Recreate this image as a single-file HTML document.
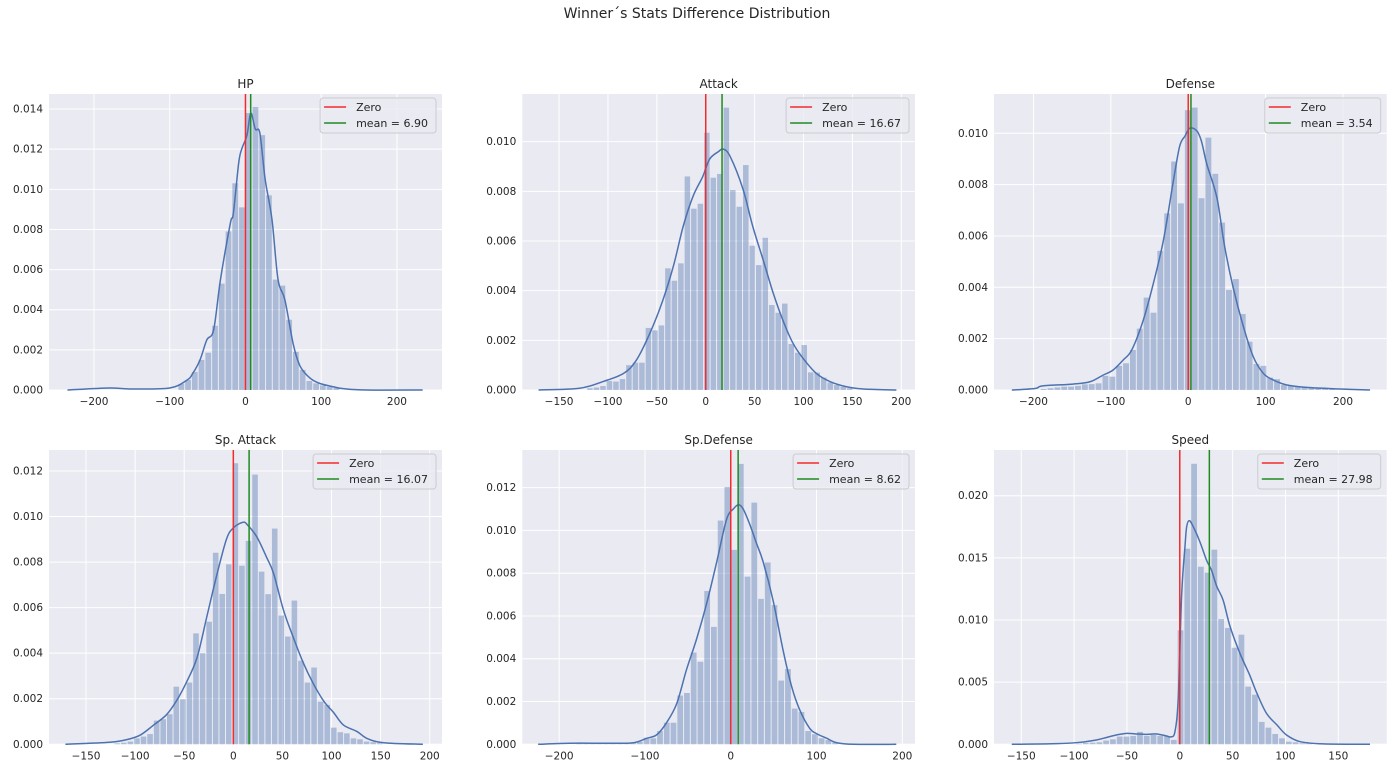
<!DOCTYPE html>
<html><head><meta charset="utf-8"><title>Winner´s Stats Difference Distribution</title>
<style>
body{margin:0;background:#fff;}
svg{display:block;font-family:"DejaVu Sans","Liberation Sans",sans-serif;}
</style></head>
<body>
<svg id="fig" width="1394" height="772" viewBox="0 0 1394 772" xmlns="http://www.w3.org/2000/svg">
<text x="697" y="18" text-anchor="middle" font-size="14" fill="#262626">Winner´s Stats Difference Distribution</text>
</svg>
<script>
// ---- data ----
const titles = ["HP","Attack","Defense","Sp. Attack","Sp.Defense","Speed"];
const means = [6.90, 16.67, 3.54, 16.07, 8.62, 27.98];
const binStarts = [-88.5, -121.2, -190.6, -121, -180, -98];
const binWidths = [8.9, 6.64, 8.87, 6.68, 7.85, 6.4];

const hpHeights = [0.0003,0.0005,0.0009,0.0015,0.00186,0.0032,0.0053,0.0079,0.0103,0.0091,0.0138,0.0141,0.0127,0.0097,0.0055,0.0052,0.0035,0.0019,0.001,0.00045,0.00033,0.00023,0.00015,0.0001];
const atkHeights = [0.00007,0.0001,0.00016,0.00036,0.00034,0.00044,0.001,0.0011,0.0011,0.0025,0.0024,0.0026,0.0049,0.0044,0.0051,0.0086,0.0073,0.0075,0.01036,0.00855,0.0087,0.01137,0.00805,0.00738,0.00906,0.00581,0.00503,0.00613,0.00342,0.00311,0.00348,0.00185,0.0015,0.00181,0.00071,0.0007,0.0005,0.0003,0.0002,0.00013,0.00007];
const defHeights = [0.00004,0.00007,0.0001,0.00013,0.00013,0.00016,0.00022,0.00023,0.00026,0.00055,0.00052,0.00094,0.00104,0.00156,0.00239,0.0036,0.00301,0.00542,0.00688,0.0089,0.00727,0.0109,0.0110,0.00747,0.00983,0.00842,0.00652,0.0039,0.00432,0.00296,0.00188,0.00101,0.00094,0.00048,0.00042,0.0002,0.00016,0.00013,0.0001,0.0001,0.00007,0.00008,0.00004];
const spaHeights = [0.00004,0.00007,0.00012,0.00026,0.00034,0.00045,0.00104,0.0011,0.00132,0.00253,0.00198,0.00271,0.00487,0.004,0.00538,0.00841,0.0066,0.0079,0.01234,0.00784,0.00893,0.01184,0.00758,0.00659,0.00947,0.00565,0.00473,0.00631,0.00367,0.00271,0.00337,0.00187,0.00173,0.00073,0.00053,0.00048,0.00026,0.00022,0.00012,0.00009,0.00005];
const spdHeights = [0.00004,0.00005,0.00005,0.00005,0.00006,0.00006,0.00005,0.00005,0.00008,0.00012,0.00031,0.00028,0.00062,0.00101,0.00101,0.00228,0.0024,0.00429,0.00386,0.00717,0.00549,0.01046,0.01203,0.00909,0.01311,0.00784,0.0113,0.0068,0.0085,0.00651,0.00298,0.00352,0.00167,0.00151,0.00062,0.00047,0.00028,0.0002,0.00008];
const spdBarsOffset = 0;
const speedHeights = [0.00005,0.0001,0.00013,0.00016,0.0003,0.0004,0.00062,0.00062,0.00067,0.001,0.00067,0.00075,0.00067,0.00067,0.00035,0.00917,0.01574,0.02257,0.01429,0.01381,0.01566,0.01008,0.00936,0.00777,0.00882,0.00464,0.00399,0.0018,0.00134,0.00083,0.00048,0.00021,0.00016,0.00008,0.00005];

const hpKdeX = [-235,-180,-150,-100,-77,-70,-60,-51,-42,-33,-20,-16,-9,-5,2,7,13,19,26,35,43,52,63,72,85,98,116,129,160,234];
const hpKdeY = [0,0.0001,0.00005,0.0001,0.0005,0.0008,0.0015,0.0025,0.003,0.0055,0.0083,0.0088,0.0113,0.012,0.0127,0.0138,0.013,0.0128,0.0105,0.0085,0.0055,0.0045,0.0023,0.0012,0.0006,0.00033,0.00016,0.00007,0,0];
const atkKdeX = [-171,-129,-105,-84,-71,-57,-44,-33,-23,-13,-3,4,13,18,25,38,48,59,69,79,89,99,113,127,144,161,195];
const atkKdeY = [0,0.00007,0.00034,0.00067,0.0012,0.0023,0.0036,0.005,0.0066,0.0078,0.0086,0.0093,0.0096,0.0097,0.0094,0.0081,0.0066,0.0052,0.0039,0.0028,0.0019,0.0013,0.00067,0.00034,0.00013,0.00004,0];
const defKdeX = [-228,-198,-188,-149,-127,-110,-97,-84,-73,-58,-45,-32,-19,-11,-4,2,11,17,24,37,47,58,71,84,97,110,127,153,196,235];
const defKdeY = [0,0.00006,0.00016,0.00023,0.00032,0.00058,0.00078,0.00117,0.00156,0.00273,0.00416,0.00584,0.00818,0.0095,0.0099,0.0102,0.0101,0.0097,0.0088,0.0075,0.0056,0.004,0.0025,0.0013,0.00065,0.00039,0.0002,0.0001,0.00004,0];
const spaKdeX = [-171,-126,-109,-95,-81,-68,-58,-48,-37,-27,-17,-7,0,10,15,24,34,41,51,61,71,81,92,102,112,126,136,153,193];
const spaKdeY = [0,0.00009,0.0002,0.0004,0.00085,0.0013,0.0019,0.0027,0.0038,0.0056,0.0074,0.009,0.0095,0.00975,0.0096,0.0091,0.0082,0.0075,0.0059,0.0047,0.0036,0.0027,0.0019,0.0014,0.00085,0.00056,0.00026,0.00007,0];
const spdKdeX = [-224.5,-188,-149,-121,-110,-98,-86.5,-75,-63,-51.5,-40,-28,-16.5,-5,3,9,14.5,22,30,38,49.5,61,71,80.5,92,100,112,123,143,193];
const spdKdeY = [0,0.00005,0.00005,0.00005,0.0001,0.00028,0.00044,0.001,0.0019,0.0035,0.0049,0.0066,0.0085,0.0105,0.011,0.0112,0.011,0.0103,0.0094,0.0085,0.0067,0.0044,0.0027,0.0016,0.00075,0.0005,0.00028,0.00008,0,0];
const speedKdeX = [-159,-116.5,-94.5,-79,-69,-60,-50,-41,-31,-22,-12.5,-8.7,-4.6,-1.4,1.7,4.9,6.5,9,12.8,19,25.4,30,35,41,47.5,57,66,73,82,92,101,114,136,180];
const speedKdeY = [0,0.00005,0.00016,0.00035,0.00056,0.00075,0.00088,0.00083,0.0008,0.00083,0.00067,0.0006,0.001,0.0038,0.0119,0.0159,0.0175,0.018,0.0175,0.0163,0.0148,0.014,0.0127,0.0116,0.0095,0.0073,0.0056,0.0041,0.0025,0.00155,0.00075,0.00021,0.00003,0];

const heightsList = [hpHeights, atkHeights, defHeights, spaHeights, spdHeights, speedHeights];
const kdeXList = [hpKdeX, atkKdeX, defKdeX, spaKdeX, spdKdeX, speedKdeX];
const kdeYList = [hpKdeY, atkKdeY, defKdeY, spaKdeY, spdKdeY, speedKdeY];
const xTickList = [[-200,-100,0,100,200],[-150,-100,-50,0,50,100,150,200],[-200,-100,0,100,200],[-150,-100,-50,0,50,100,150,200],[-200,-100,0,100,200],[-150,-100,-50,0,50,100,150]];
const yTickList = [[0,0.002,0.004,0.006,0.008,0.010,0.012,0.014],[0,0.002,0.004,0.006,0.008,0.010],[0,0.002,0.004,0.006,0.008,0.010],[0,0.002,0.004,0.006,0.008,0.010,0.012],[0,0.002,0.004,0.006,0.008,0.010,0.012],[0,0.005,0.010,0.015,0.020]];

// ---- layout (pixels / axis limits) ----
const layout = [
 {l:49, r:442, t:94, b:390, xmin:-259.4, xmax:259.5, ymax:0.01475},
 {l:522.3, r:915, t:94, b:390, xmin:-187.6, xmax:214, ymax:0.01192},
 {l:994, r:1386.7, t:94, b:390, xmin:-251, xmax:256.5, ymax:0.01153},
 {l:49, r:442, t:450, b:744.3, xmin:-187.7, xmax:212.5, ymax:0.01292},
 {l:522.3, r:915, t:450, b:744.3, xmin:-243, xmax:214.8, ymax:0.01376},
 {l:994, r:1386.7, t:450, b:744.3, xmin:-175.8, xmax:195.8, ymax:0.02368}
];

const NS = "http://www.w3.org/2000/svg";
const svg = document.getElementById('fig');
function mk(tag, attrs, parent){
  const e = document.createElementNS(NS, tag);
  for (const k in attrs) e.setAttribute(k, attrs[k]);
  (parent||svg).appendChild(e);
  return e;
}
function slug(s){return s.toLowerCase().replace(/[^a-z0-9]+/g,'-').replace(/^-|-$/g,'');}

function smoothPath(pts){
  let d = "M"+pts[0][0].toFixed(2)+","+pts[0][1].toFixed(2);
  for (let i=0;i<pts.length-1;i++){
    const p0=pts[i-1]||pts[i], p1=pts[i], p2=pts[i+1], p3=pts[i+2]||p2;
    const c1x=p1[0]+(p2[0]-p0[0])/6, c1y=p1[1]+(p2[1]-p0[1])/6;
    const c2x=p2[0]-(p3[0]-p1[0])/6, c2y=p2[1]-(p3[1]-p1[1])/6;
    d += " C"+c1x.toFixed(2)+","+c1y.toFixed(2)+" "+c2x.toFixed(2)+","+c2y.toFixed(2)+" "+p2[0].toFixed(2)+","+p2[1].toFixed(2);
  }
  return d;
}

for (let i=0;i<6;i++){
  const L = layout[i];
  const sx = v => L.l + (v - L.xmin)/(L.xmax - L.xmin)*(L.r - L.l);
  const sy = v => L.b - v/L.ymax*(L.b - L.t);
  const name = slug(titles[i]);
  const g = mk('g', {});
  
  
  const bg = mk('rect', {x:L.l, y:L.t, width:L.r-L.l, height:L.b-L.t, fill:'#eaeaf2'}, g);
  
  
  // grid + ticks
  const yt = yTickList[i];
  const dec = (i===5) ? 3 : 3;
  for (const v of yt){
    const y = sy(v);
    mk('line', {x1:L.l, x2:L.r, y1:y, y2:y, stroke:'#fff', 'stroke-width':1}, g);
    const t = mk('text', {x:L.l-6, y:y+3.5, 'text-anchor':'end', 'font-size':10.5, fill:'#262626'}, g);
    t.textContent = v.toFixed(dec);
    
    
  }
  for (const v of xTickList[i]){
    const x = sx(v);
    mk('line', {x1:x, x2:x, y1:L.t, y2:L.b, stroke:'#fff', 'stroke-width':1}, g);
    const t = mk('text', {x:x, y:L.b+15, 'text-anchor':'middle', 'font-size':10.5, fill:'#262626'}, g);
    t.textContent = (v<0 ? '\u2212'+Math.abs(v) : String(v));
    
    
  }
  // bars
  const hs = heightsList[i];
  for (let k=0;k<hs.length;k++){
    const x0 = sx(binStarts[i] + k*binWidths[i]);
    const x1 = sx(binStarts[i] + (k+1)*binWidths[i]);
    const y = sy(hs[k]);
    const r = mk('rect', {x:x0, y:y, width:Math.max(0,x1-x0-1), height:L.b-y, fill:'#4c72b0', 'fill-opacity':0.4}, g);
    
    
  }
  // kde
  const kx = kdeXList[i], ky = kdeYList[i];
  const pts = kx.map((v,j)=>[sx(v), sy(ky[j])]);
  const kde = mk('path', {d:smoothPath(pts), fill:'none', stroke:'#4c72b0', 'stroke-width':1.5}, g);
  
  
  // zero & mean lines
  const zl = mk('line', {x1:sx(0), x2:sx(0), y1:L.t, y2:L.b, stroke:'#f52a2a', 'stroke-width':1.5}, g);
  
  
  const ml = mk('line', {x1:sx(means[i]), x2:sx(means[i]), y1:L.t, y2:L.b, stroke:'#1f8b1f', 'stroke-width':1.5}, g);
  
  
  // title
  const tt = mk('text', {x:(L.l+L.r)/2, y:L.t-6, 'text-anchor':'middle', 'font-size':12, fill:'#262626'}, g);
  tt.textContent = titles[i];
  
  
  // legend
  const lg = mk('g', {}, g);
  
  
  const box = mk('rect', {y:L.t+4, height:35, rx:3, fill:'#eaeaf2', 'fill-opacity':0.8, stroke:'#cccccc', 'stroke-width':1}, lg);
  
  
  const t2 = mk('text', {y:L.t+4+29, 'font-size':11, fill:'#262626'}, lg);
  t2.textContent = 'mean = ' + means[i].toFixed(2);
  
  
  const tw = t2.getComputedTextLength() || 70;
  const bw = tw + 44;
  const bx = L.r - 6 - bw;
  box.setAttribute('x', bx);
  box.setAttribute('width', bw);
  t2.setAttribute('x', bx+36);
  const l1 = mk('line', {x1:bx+4, x2:bx+26, y1:L.t+13, y2:L.t+13, stroke:'#f52a2a', 'stroke-width':1.5}, lg);
  
  
  const t1 = mk('text', {x:bx+36, y:L.t+17, 'font-size':11, fill:'#262626'}, lg);
  t1.textContent = 'Zero';
  
  
  const l2 = mk('line', {x1:bx+4, x2:bx+26, y1:L.t+29, y2:L.t+29, stroke:'#1f8b1f', 'stroke-width':1.5}, lg);
  
  
}
</script>
</body></html>
